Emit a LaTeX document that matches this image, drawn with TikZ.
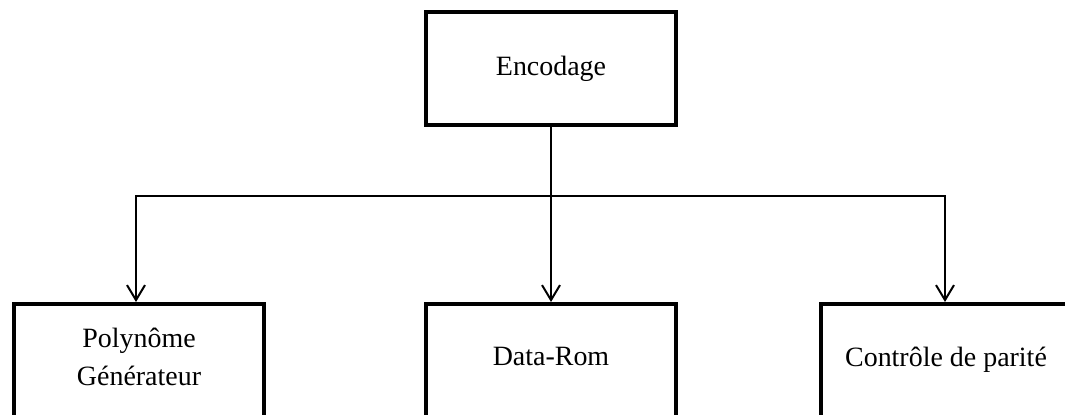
\documentclass[tikz,border=0pt]{standalone}
\usepackage{fontspec}
\setmainfont{Liberation Serif}
\usepackage{tikz}
\usetikzlibrary{positioning,arrows.meta,calc}

\begin{document}
\begin{tikzpicture}[
    bloc/.style={draw, line width=0.08cm, minimum width=5cm, minimum height=2.26cm, inner sep=0pt, align=center, font=\fontsize{15.9}{21.5}\selectfont},
    bas/.style={bloc, anchor=north, minimum height=2.6cm, text depth=0.5cm},
    lien/.style={line width=0.04cm, -{Straight Barb[length=0.3cm, width=0.36cm]}}
  ]
    \useasboundingbox (0,0) rectangle (21.3,-8.28);
    \node[bloc] (enc) at (11.02,-1.37) {Encodage};
    \node[bas] (poly) at (2.78,-6.04) {Polynôme\\Générateur};
    \node[bas] (rom) at (11.02,-6.04) {Data-Rom};
    \node[bas] (parite) at (18.92,-6.04) {Contrôle de parité};
    \coordinate (bus) at (11.02,-3.92);
    \draw[lien] (enc) -- (rom);
    \draw[lien] (bus) -| ([xshift=-0.06cm]poly.north);
    \draw[lien] (bus) -| ([xshift=-0.02cm]parite.north);
  \end{tikzpicture}
\end{document}
